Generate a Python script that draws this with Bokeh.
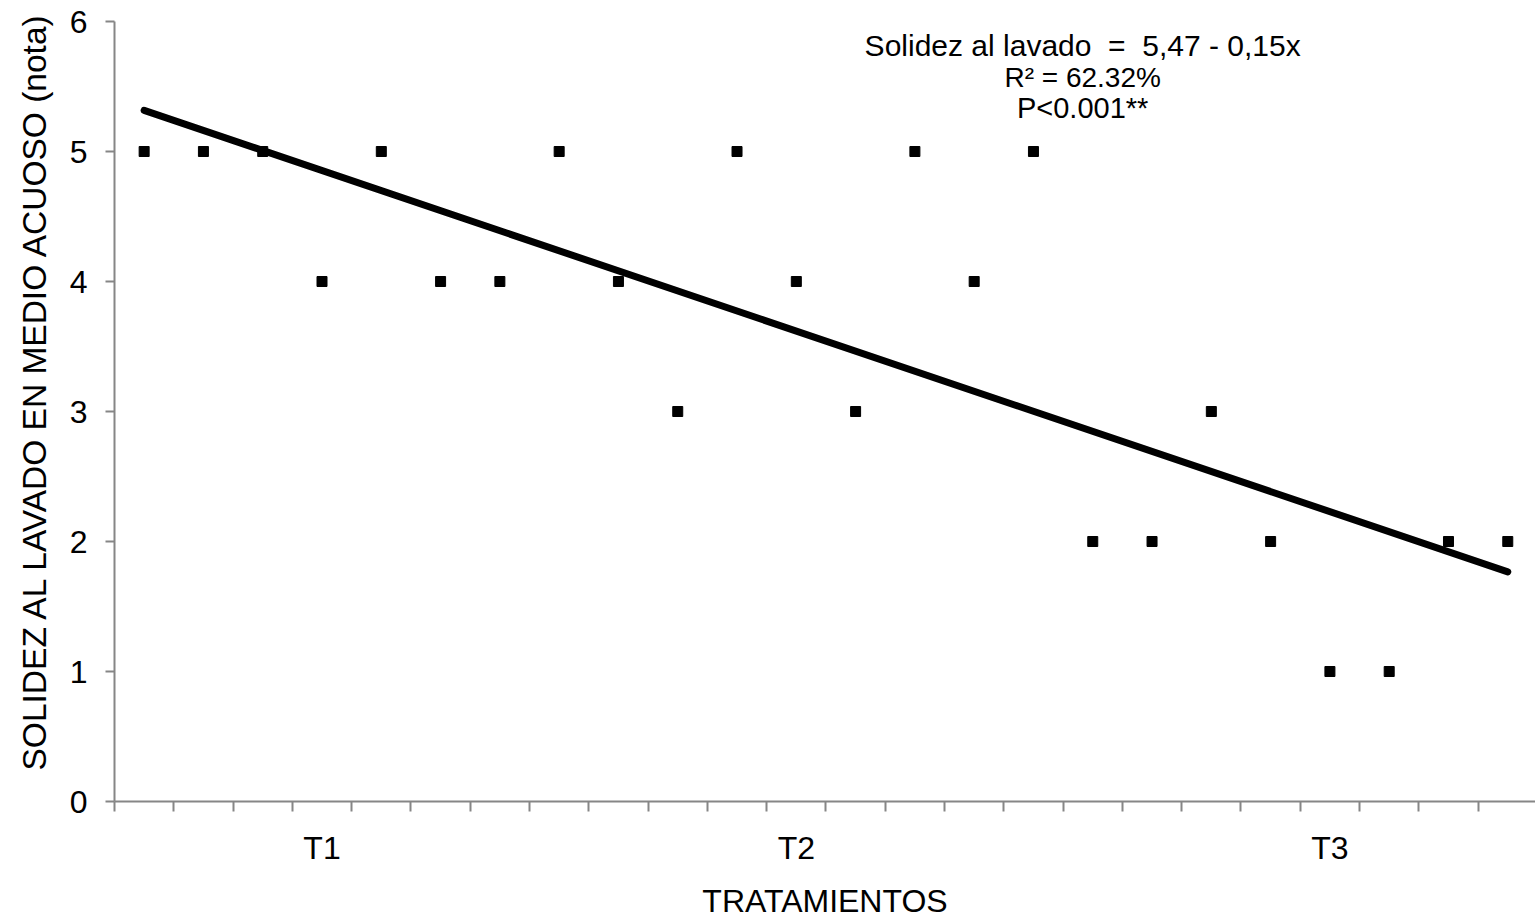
import numpy as np
from bokeh.plotting import figure
from bokeh.models import Range1d, FixedTicker, Label, ColumnDataSource, Title
from bokeh.embed import file_html
from bokeh.resources import INLINE

# ---- data ----
muestra = list(range(1, 25))
solidez = [5, 5, 5, 4, 5, 4, 4, 5, 4, 3, 5, 4, 3, 5, 4, 5, 2, 2, 3, 2, 1, 1, 2, 2]
tick_pos = [4, 12, 21]
tick_labels = ["T1", "T2", "T3"]
y_ticks = [0, 1, 2, 3, 4, 5, 6]
NB = "\u00a0"
eq_lines = ["Solidez al lavado" + NB + " = " + NB + "5,47 - 0,15x", "R² = 62.32%", "P<0.001**"]
y_title = "SOLIDEZ AL LAVADO EN MEDIO ACUOSO (nota)"
x_title = "TRATAMIENTOS"

FONT = "Liberation Sans"
GREY = "#868686"

slope, intercept = np.polyfit(muestra, solidez, 1)
trend_x = [muestra[0], muestra[-1]]
trend_y = [intercept + slope * v for v in trend_x]

W, H = 1535, 921
left, top, bottom = 113, 21, 120
slot = 59.33

p = figure(width=W, height=H, output_backend="svg", toolbar_location=None,
           x_range=Range1d(0.5, 0.5 + (W - left) / slot), y_range=Range1d(0, 6),
           min_border_left=left, min_border_right=0, min_border_top=top,
           min_border_bottom=bottom)
p.outline_line_color = None
p.xgrid.grid_line_color = None
p.ygrid.grid_line_color = None
p.background_fill_color = "white"
p.border_fill_color = "white"

p.line(trend_x, trend_y, line_color="black", line_width=7, line_cap="round")
src = ColumnDataSource(dict(x=muestra, y=solidez))
p.scatter("x", "y", source=src, marker="square", size=10, fill_color="black",
          line_color="black")

# x axis
xa = p.xaxis[0]
bounds = [i + 0.5 for i in range(0, 25)]
xa.ticker = FixedTicker(ticks=tick_pos, minor_ticks=bounds)
xa.major_label_overrides = {t: l for t, l in zip(tick_pos, tick_labels)}
xa.major_tick_out = 0
xa.major_tick_in = 0
xa.minor_tick_out = 10
xa.minor_tick_in = 0
xa.minor_tick_line_color = GREY
xa.minor_tick_line_width = 2
xa.axis_line_color = GREY
xa.axis_line_width = 2
xa.major_label_text_font = FONT
xa.major_label_text_font_size = "32px"
xa.major_label_text_color = "black"
xa.major_label_standoff = 18
xa.axis_label = x_title
xa.axis_label_text_font = FONT
xa.axis_label_text_font_size = "32px"
xa.axis_label_text_font_style = "normal"
xa.axis_label_text_color = "black"
xa.axis_label_standoff = 14

# y axis
ya = p.yaxis[0]
ya.ticker = FixedTicker(ticks=y_ticks)
ya.major_tick_out = 9
ya.major_tick_in = 0
ya.minor_tick_out = 0
ya.minor_tick_in = 0
ya.major_tick_line_color = GREY
ya.major_tick_line_width = 2
ya.axis_line_color = GREY
ya.axis_line_width = 2
ya.major_label_text_font = FONT
ya.major_label_text_font_size = "32px"
ya.major_label_text_color = "black"
ya.major_label_standoff = 18

# y title as a left-side title, starting 31px above the frame bottom
p.add_layout(Title(text=y_title, align="left", offset=31, standoff=27,
                   text_font=FONT, text_font_size="33.5px",
                   text_font_style="normal", text_color="black"), "left")

# equation annotation
for txt, yv, fs in zip(eq_lines, [5.815, 5.569, 5.338], ["30px", "28px", "29px"]):
    p.add_layout(Label(x=16.83, y=yv, text=txt, text_align="center",
                       text_baseline="middle", text_font=FONT,
                       text_font_size=fs, text_color="black"))

open("out.html", "w").write(file_html(p, INLINE))
